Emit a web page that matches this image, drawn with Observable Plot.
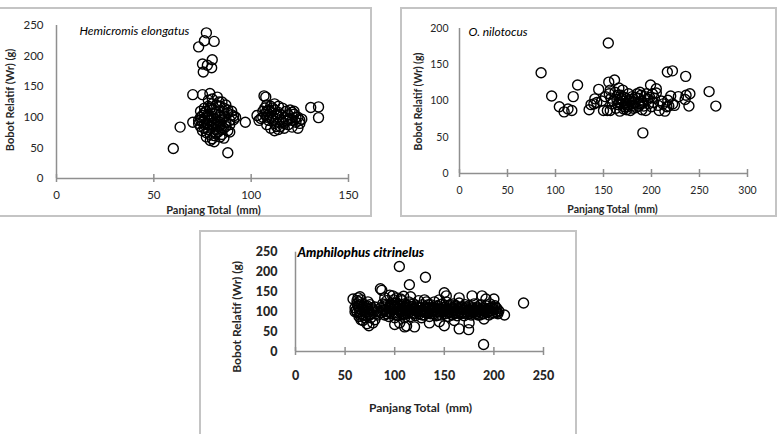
<!DOCTYPE html>
<html><head><meta charset="utf-8">
<script src="https://cdn.jsdelivr.net/npm/d3@7"></script>
<script src="https://cdn.jsdelivr.net/npm/@observablehq/plot@0.6"></script>
<style>
body{margin:0;background:#fff;}
#root{position:relative;width:780px;height:434px;overflow:hidden;background:#fff;}
.frame{position:absolute;border:2px solid #c4c4c4;box-sizing:border-box;}
.plot{position:absolute;}
</style></head><body><div id="root"></div>
<script>
// ---- Panel titles and labels
const titles = ["Hemicromis elongatus", "O. nilotocus", "Amphilophus citrinelus"];
const xLabel = "Panjang Total  (mm)";
const yLabel = "Bobot Relatif (Wr) (g)";

// ---- tick values
const hemiXTicks = [0, 50, 100, 150];
const hemiYTicks = [0, 50, 100, 150, 200, 250];
const niloXTicks = [0, 50, 100, 150, 200, 250, 300];
const niloYTicks = [0, 50, 100, 150, 200];
const amphiXTicks = [0, 50, 100, 150, 200, 250];
const amphiYTicks = [0, 50, 100, 150, 200, 250];

// ---- Hemicromis elongatus: [length mm, Wr]
const hemiPoints = [
[77,238],[76,225],[81,224],[73,215],[80,194],[75,187],[77.5,185],[79.7,181],[75.4,174],
[70,137],[75,137],[78.8,139],[82.6,133],[83.5,125],
[60,49],[63.5,84],[70,92],[88,42],[97,92],
[74,110],[76,108],[78,105],[80,112],[82,108],[84,104],[86,110],[88,107],[90,104],[92,100],
[73,95],[75,92],[77,90],[79,95],[81,98],[83,94],[85,96],[87,92],[89,88],[91,96],
[74,85],[76,82],[78,88],[80,84],[82,80],[84,86],[86,82],[88,78],[75,78],[77,75],[79,72],
[81,70],[83,76],[85,72],[80,65],[79,62],[81,60],[77,68],[86,66],
[78,100],[80,102],[82,96],[84,92],[76,98],[78,95],[80,90],[82,88],[84,100],[86,102],
[78,118],[80,122],[82,120],[84,118],[86,115],[88,112],[85,125],[87,120],[80,130],[78,128],
[76,115],[74,100],[73,90],[75,103],[77,110],[79,115],[81,92],[83,85],[85,80],[87,85],
[89,95],[90,110],[91,102],[89,76],[84,68],[82,74],[78,80],[76,88],[74,96],
[106.6,135],[107.5,133],[103,103],[104,95],[105,98],[106,110],[107,115],[108,120],[109,105],
[110,100],[111,95],[112,90],[113,85],[114,80],[108,88],[110,82],[112,78],[115,85],[117,82],
[119,88],[121,84],[124,82],[108,100],[110,108],[112,112],[114,118],[116,115],[118,110],
[120,112],[122,105],[124,100],[126,97],[109,95],[111,102],[113,98],[115,105],[117,100],
[119,96],[121,95],[123,92],[125,90],[108,110],[110,118],[112,122],[114,108],[116,92],
[118,94],[120,98],[122,110],[106,100],[107,105],[109,112],[111,115],[113,105],[115,95],
[117,90],[119,104],[121,108],[123,100],[125,95],
[130.6,116],[134.6,117],[134.6,99.5]
];

// ---- O. nilotocus
const niloPoints = [
[155,180],[85,139],[96,107],[104,92],[109,85],[113,89],[117,87],[118.5,106],[123,122],
[135,88],[137,95],[140,96],[141,103],[145,116],[150,87],[154,87],[157,87],[155.5,126],
[161.5,129],[152,106],[156,110],[158,104],[160,100],[162,112],[165,95],[166,118],[168,108],
[170,115],[170,100],[172,92],[172,105],[174,88],[174,98],[176,110],[176,95],[178,102],
[178,87],[180,106],[180,94],[182,98],[184,91],[185,110],[186,104],[188,112],[188,96],
[190,100],[190,88],[192,93],[193,106],[194,87],[196,102],[197,96],[199,122],[200,92],
[201,110],[202,98],[205,117],[205,111],[207,94],[208,87],[210,100],[214,86],[216,92],
[217,101],[218,93],[216.5,140],[221.8,141.6],[220,107],[222,96],[224,94],[228,106],
[235,102],[235.6,134],[236,108],[239,93],[240,110],[260,113],[267,93],[191,56],
[163,90],[164,102],[166,98],[167,86],[168,96],[169,104],[171,89],[173,97],[175,92],
[177,100],[179,96],[181,90],[183,105],[187,93],[189,108],[191,97],[195,110],[198,105],
[203,104],[212,96],[165,108],[159,96],[157,115],[148,100],[143,98]
];

// ---- Amphilophus citrinelus
const amphiPoints = [
[58,132],[62,128],[63,135],[65,138],[66,130],[60,110],[61,104],[62,98],[63,115],[64,108],
[65,100],[66,95],[67,120],[68,112],[69,105],[70,98],[71,90],[72,115],[73,108],[74,100],
[75,92],[76,85],[64,88],[66,80],[68,78],[70,85],[72,70],[74,65],[78,72],[80,80],[62,120],
[64,125],[67,105],[69,118],[71,110],[73,125],[75,118],[77,110],[79,102],[81,95],[60,100],
[65,92],[70,102],[76,95],[78,105],[80,112],[82,100],[83,92],
[104.7,214],[131,187],[114.8,168],[85.6,158],[87,154],[109,139],[95,142],[116,138],
[130,130],[150,148],[152,140],[165,135],[178,140],[188,140],[192,132],[200,132],
[229.9,122],[210.7,92],[189.6,17.6],[174.5,55],
[105,72],[110,62],[112,64],[120,62],[150,65],[165,57],[175,72],[135,72],[100,68],[145,75],
[190,82],[160,78],[90,135],[98,140],[102,135],[106,132],
[86,110],[87,98],[88,120],[89,105],[90,92],[91,115],[92,128],[93,100],[94,88],[95,112],
[96,120],[97,95],[98,105],[99,130],[100,85],[100,110],[101,98],[102,122],[103,105],[104,90],
[105,115],[106,100],[107,128],[108,92],[109,110],[110,120],[110,85],[111,102],[112,115],
[113,95],[114,125],[115,105],[116,88],[117,112],[118,98],[119,120],[120,108],[121,90],
[122,115],[123,100],[124,128],[125,95],[126,110],[127,85],[128,118],[129,102],[130,92],
[131,112],[132,125],[133,98],[134,108],[135,88],[136,118],[137,100],[138,110],[139,95],
[140,125],[141,105],[142,90],[143,115],[144,100],[145,130],[146,108],[147,92],[148,120],
[149,102],[150,112],[151,95],[152,125],[153,105],[154,88],[155,115],[156,100],[157,110],
[158,92],[159,120],[160,105],[161,98],[162,115],[163,90],[164,108],[165,122],[166,100],
[167,95],[168,112],[169,105],[170,90],[171,118],[172,100],[173,108],[174,95],[175,115],
[176,102],[177,92],[178,110],[179,98],[180,120],[181,105],[182,95],[183,112],[184,100],
[185,108],[186,92],[187,118],[188,102],[189,110],[190,95],[191,105],[192,115],[193,98],
[194,108],[195,92],[196,120],[197,102],[198,110],[199,98],[200,105],[201,115],[202,100],
[203,108],[204,95],[205,102],
[88,102],[90,118],[92,95],[94,108],[96,100],[98,115],[100,122],[102,92],[104,108],[106,118],
[108,102],[110,95],[112,108],[114,98],[116,120],[118,108],[120,95],[122,102],[124,110],
[126,100],[128,92],[130,108],[132,102],[134,118],[136,95],[138,102],[140,110],[142,100],
[144,92],[146,118],[148,105],[150,100],[152,108],[154,98],[156,118],[158,105],[160,95],
[162,102],[164,96],[166,110],[168,98],[170,108],[172,112],[174,102],[176,96],[178,104],
[180,100],[182,108],[184,92],[186,104],[188,96],[190,108],[194,100],[198,96],[202,110],
[91,105],[95,98],[99,110],[103,118],[107,96],[111,112],[115,100],[119,105],[123,112],
[127,104],[131,98],[135,110],[139,104],[143,108],[147,100],[151,106],[155,104],[159,110],
[163,102],[167,106],[171,96],[175,104],[179,108],[183,100],[187,106],[191,100],[195,104],
[199,112],[203,98]
];

const root = document.getElementById("root");
function addFrame(l, t, w, h) {
  const d = document.createElement("div");
  d.className = "frame";
  Object.assign(d.style, {left: l + "px", top: t + "px", width: w + "px", height: h + "px"});
  root.appendChild(d);
}
const axisColor = "#8f8f8f";
const textColor = "#262626";

function panel(cfg) {
  const plot = Plot.plot({
    width: cfg.width, height: cfg.height,
    marginLeft: cfg.ml, marginRight: cfg.mr, marginTop: cfg.mt, marginBottom: cfg.mb,
    x: {domain: cfg.xDomain, axis: null},
    y: {domain: cfg.yDomain, axis: null},
    style: {fontFamily: cfg.font, fontSize: cfg.tickFont + "px", color: textColor, background: "transparent", overflow: "visible"},
    marks: [
      Plot.ruleX([0], {stroke: axisColor, strokeWidth: 1.5}),
      Plot.ruleY([0], {stroke: axisColor, strokeWidth: 1.5}),
      Plot.ruleX(cfg.xTicks, {x: d => d, y1: 0, y2: 0, insetTop: -4, insetBottom: -4, stroke: axisColor, strokeWidth: 1.5}),
      Plot.axisX({ticks: cfg.xTicks, tickSize: 0, tickPadding: cfg.xPad, tickFormat: d => String(d), fontWeight: cfg.tickWeight, fill: textColor, fontSize: cfg.tickFont}),
      Plot.axisY({ticks: cfg.yTicks, tickSize: 0, tickPadding: cfg.yPad, tickFormat: d => String(d), fontWeight: cfg.tickWeight, fill: textColor, fontSize: cfg.tickFont}),
      Plot.dot(cfg.points, {x: d => d[0], y: d => d[1], r: cfg.r, stroke: "#000", strokeWidth: 1.4, fill: "none"}),
      Plot.text([cfg.title], {frameAnchor: "top-left", textAnchor: "start", lineAnchor: "middle", dx: cfg.tdx, dy: cfg.tdy, fontStyle: "italic", fontWeight: cfg.titleWeight, fontSize: cfg.titleFont, fill: "#000"}),
      Plot.text([xLabel], {frameAnchor: "bottom", textAnchor: "middle", lineAnchor: "middle", dx: cfg.xldx, dy: cfg.xldy, fontWeight: "bold", fontSize: cfg.labelFont, fill: textColor}),
      Plot.text([yLabel], {frameAnchor: "left", textAnchor: "middle", lineAnchor: "middle", rotate: -90, dx: cfg.yldx, dy: cfg.yldy, fontWeight: "bold", fontSize: cfg.labelFont, fill: textColor})
    ]
  });
  plot.classList.add("plot");
  plot.style.left = cfg.left + "px";
  plot.style.top = cfg.top + "px";
  root.appendChild(plot);
}

addFrame(-3, 7, 375, 210);
addFrame(400, 7, 377, 210);
addFrame(199, 230, 378, 220);

panel({points: hemiPoints, xDomain: [0, 150], yDomain: [0, 250], xTicks: hemiXTicks, yTicks: hemiYTicks,
  left: 0, top: 8, width: 370, height: 207, ml: 56, mr: 22, mt: 17, mb: 37,
  font: "Lato, 'Open Sans', sans-serif", tickFont: 11.5, tickWeight: "normal", xPad: 12, yPad: 13, r: 5,
  title: titles[0], titleFont: 12, titleWeight: "normal", tdx: 23, tdy: 6,
  labelFont: 11, xldx: 11, xldy: 32, yldx: -46, yldy: -2});

panel({points: niloPoints, xDomain: [0, 300], yDomain: [0, 200], xTicks: niloXTicks, yTicks: niloYTicks,
  left: 401, top: 8, width: 375, height: 207, ml: 58, mr: 29, mt: 20, mb: 42,
  font: "Lato, 'Open Sans', sans-serif", tickFont: 10.5, tickWeight: "normal", xPad: 13, yPad: 11, r: 5,
  title: titles[1], titleFont: 12, titleWeight: "normal", tdx: 9, tdy: 4,
  labelFont: 10.5, xldx: 9, xldy: 36, yldx: -41, yldy: 0.5});

panel({points: amphiPoints, xDomain: [0, 250], yDomain: [0, 250], xTicks: amphiXTicks, yTicks: amphiYTicks,
  left: 200, top: 231, width: 376, height: 203, ml: 95, mr: 33, mt: 20.7, mb: 83,
  font: "Lato, 'Open Sans', sans-serif", tickFont: 12.5, tickWeight: "900", xPad: 20, yPad: 18, r: 5,
  title: titles[2], titleFont: 13, titleWeight: "900", tdx: 2, tdy: 1,
  labelFont: 12, xldx: 1, xldy: 57, yldx: -58, yldy: 15});
</script>
</body></html>
